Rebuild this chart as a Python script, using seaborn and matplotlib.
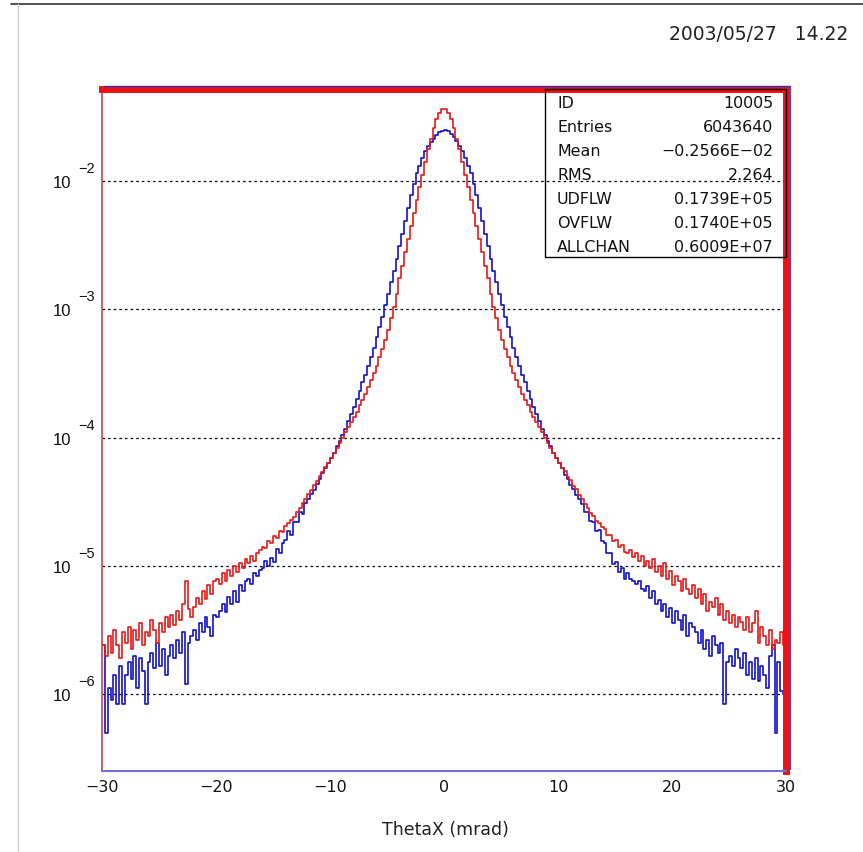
import numpy as np
import pandas as pd
import matplotlib
matplotlib.use("Agg")
import matplotlib.pyplot as plt
import matplotlib.transforms as mtransforms
import seaborn as sns
from matplotlib.lines import Line2D
from matplotlib.patches import Rectangle
from matplotlib.ticker import LogLocator, MultipleLocator, NullFormatter

# ---------------- data ----------------
x_range = (-30.0, 30.0)
n_bins = 240
# log10 of bin content, bins of 0.25 mrad from -30 to 30
blue_log10 = [
    -5.62, -6.30, -5.95, -6.05, -5.85, -6.08, -5.78, -6.08,
    -5.85, -5.75, -5.88, -5.70, -5.95, -5.72, -5.82, -6.08,
    -5.75, -5.68, -5.80, -5.60, -5.78, -5.65, -5.85, -5.70,
    -5.62, -5.72, -5.58, -5.68, -5.52, -5.92, -5.60, -5.55,
    -5.50, -5.58, -5.45, -5.52, -5.40, -5.48, -5.55, -5.38,
    -5.40, -5.35, -5.30, -5.36, -5.24, -5.30, -5.20, -5.28,
    -5.15, -5.20, -5.12, -5.10, -5.14, -5.06, -5.08, -5.03,
    -5.02, -4.96, -5.00, -4.94, -4.97, -4.87, -4.90, -4.82,
    -4.80, -4.73, -4.76, -4.66, -4.66, -4.58, -4.60, -4.51,
    -4.48, -4.44, -4.41, -4.36, -4.32, -4.28, -4.24, -4.20,
    -4.16, -4.12, -4.07, -4.03, -3.98, -3.93, -3.87, -3.82,
    -3.76, -3.70, -3.64, -3.57, -3.51, -3.44, -3.37, -3.30,
    -3.22, -3.14, -3.06, -2.97, -2.88, -2.79, -2.70, -2.61,
    -2.51, -2.41, -2.31, -2.21, -2.11, -2.02, -1.94, -1.88,
    -1.82, -1.77, -1.73, -1.70, -1.67, -1.64, -1.62, -1.61,
    -1.60, -1.61, -1.63, -1.66, -1.69, -1.73, -1.77, -1.82,
    -1.88, -1.94, -2.02, -2.11, -2.21, -2.31, -2.41, -2.51,
    -2.61, -2.70, -2.79, -2.88, -2.97, -3.06, -3.14, -3.22,
    -3.30, -3.37, -3.44, -3.51, -3.57, -3.64, -3.70, -3.76,
    -3.82, -3.87, -3.93, -3.98, -4.03, -4.07, -4.12, -4.16,
    -4.20, -4.24, -4.29, -4.32, -4.37, -4.40, -4.45, -4.48,
    -4.52, -4.58, -4.58, -4.65, -4.66, -4.73, -4.72, -4.81,
    -4.82, -4.90, -4.90, -4.99, -4.97, -5.05, -5.02, -5.10,
    -5.06, -5.10, -5.12, -5.14, -5.12, -5.18, -5.20, -5.16,
    -5.25, -5.20, -5.30, -5.27, -5.35, -5.30, -5.40, -5.33,
    -5.45, -5.35, -5.42, -5.50, -5.38, -5.55, -5.45, -5.48,
    -5.52, -5.60, -5.50, -5.65, -5.58, -5.70, -5.55, -5.62,
    -5.68, -5.60, -6.08, -5.75, -5.70, -5.78, -5.65, -5.72,
    -5.80, -5.68, -5.85, -5.75, -5.88, -5.72, -5.90, -5.78,
    -5.85, -5.95, -5.70, -5.62, -6.30, -5.75, -5.98, -6.00,
]
red_log10 = [
    -5.62, -5.70, -5.55, -5.68, -5.50, -5.62, -5.72, -5.52,
    -5.60, -5.48, -5.65, -5.50, -5.58, -5.45, -5.62, -5.52,
    -5.55, -5.42, -5.50, -5.60, -5.45, -5.52, -5.40, -5.48,
    -5.38, -5.46, -5.35, -5.42, -5.30, -5.12, -5.34, -5.40,
    -5.32, -5.25, -5.30, -5.20, -5.26, -5.15, -5.22, -5.12,
    -5.10, -5.14, -5.06, -5.12, -5.03, -5.08, -5.00, -5.05,
    -4.98, -5.02, -4.95, -4.98, -4.92, -4.96, -4.90, -4.88,
    -4.85, -4.86, -4.81, -4.82, -4.77, -4.78, -4.73, -4.74,
    -4.69, -4.67, -4.64, -4.62, -4.58, -4.55, -4.51, -4.48,
    -4.44, -4.41, -4.37, -4.34, -4.30, -4.27, -4.23, -4.20,
    -4.16, -4.12, -4.08, -4.04, -4.00, -3.96, -3.92, -3.88,
    -3.84, -3.80, -3.75, -3.71, -3.66, -3.61, -3.55, -3.50,
    -3.44, -3.37, -3.31, -3.24, -3.16, -3.07, -2.98, -2.88,
    -2.76, -2.66, -2.55, -2.45, -2.35, -2.25, -2.15, -2.05,
    -1.95, -1.85, -1.75, -1.67, -1.59, -1.52, -1.47, -1.44,
    -1.44, -1.47, -1.52, -1.59, -1.67, -1.75, -1.85, -1.95,
    -2.05, -2.15, -2.25, -2.35, -2.45, -2.55, -2.66, -2.76,
    -2.88, -2.98, -3.07, -3.16, -3.24, -3.31, -3.37, -3.44,
    -3.50, -3.55, -3.61, -3.66, -3.71, -3.75, -3.80, -3.84,
    -3.88, -3.92, -3.96, -4.00, -4.04, -4.08, -4.12, -4.16,
    -4.20, -4.24, -4.26, -4.31, -4.33, -4.38, -4.40, -4.45,
    -4.48, -4.52, -4.55, -4.59, -4.61, -4.65, -4.67, -4.70,
    -4.71, -4.76, -4.76, -4.81, -4.80, -4.85, -4.84, -4.89,
    -4.90, -4.88, -4.93, -4.90, -4.96, -4.92, -5.00, -4.96,
    -5.02, -4.95, -5.05, -5.00, -5.08, -4.98, -5.10, -5.04,
    -5.15, -5.08, -5.12, -5.20, -5.10, -5.18, -5.22, -5.15,
    -5.25, -5.18, -5.30, -5.22, -5.35, -5.28, -5.32, -5.25,
    -5.38, -5.30, -5.42, -5.35, -5.45, -5.38, -5.48, -5.40,
    -5.44, -5.50, -5.40, -5.52, -5.45, -5.35, -5.60, -5.48,
    -5.55, -5.62, -5.50, -5.65, -5.58, -5.60, -5.52, -5.62,
]
x_ticks = [-30, -20, -10, 0, 10, 20, 30]
y_decades = [-6, -5, -4, -3, -2]
stat_labels = ["ID", "Entries", "Mean", "RMS", "UDFLW", "OVFLW", "ALLCHAN"]
stat_values = ["10005", "6043640", "\u22120.2566E\u221202", "2.264",
               "0.1739E+05", "0.1740E+05", "0.6009E+07"]
date_text = "2003/05/27   14.22"
x_label = "ThetaX (mrad)"

# ---------------- build table ----------------
edges = np.linspace(x_range[0], x_range[1], n_bins + 1)
centers = 0.5 * (edges[:-1] + edges[1:])
df = pd.DataFrame({
    "theta": np.concatenate([centers, centers]),
    "content": np.power(10.0, np.concatenate([blue_log10, red_log10])),
    "series": ["blue"] * n_bins + ["red"] * n_bins,
})

sns.set_theme(style="white")
plt.rcParams["font.family"] = ["DejaVu Sans"]

W, H = 863, 853
fig = plt.figure(figsize=(W / 100, H / 100), dpi=100)
fig.patch.set_facecolor("white")

def fx(px):
    return px / W

def fy(py):
    return 1 - py / H

ax_l, ax_r, ax_t, ax_b = 102, 786, 90, 772
ax = fig.add_axes([fx(ax_l), fy(ax_b), (ax_r - ax_l) / W, (ax_b - ax_t) / H])
ax.set_facecolor("white")

colors = {"blue": "#1212c8", "red": "#e81818"}
for name in ["blue", "red"]:
    sub = df[df["series"] == name]
    sns.histplot(data=sub, x="theta", weights="content", bins=n_bins,
                 binrange=x_range, element="step", fill=False,
                 color=colors[name], linewidth=1.2, ax=ax)

ax.set_yscale("log")
ax.set_xlim(*x_range)
ax.set_ylim(10 ** -6.6, 10 ** -1.283)
ax.set_xlabel("")
ax.set_ylabel("")

ax.set_xticks(x_ticks)
ax.set_xticklabels([f"{t}".replace("-", "\u2212") for t in x_ticks])
ax.xaxis.set_minor_locator(MultipleLocator(2))
ax.set_yticks([10.0 ** d for d in y_decades])
ax.set_yticklabels([])
ax.yaxis.set_minor_locator(LogLocator(base=10, subs=np.arange(2, 10), numticks=30))
ax.yaxis.set_minor_formatter(NullFormatter())

ax.tick_params(which="both", direction="in", color="black", width=1.0,
               top=False, right=False)
ax.tick_params(which="major", length=9)
ax.tick_params(which="minor", length=5)
ax.tick_params(axis="x", which="major", labelsize=11.5, pad=6, labelcolor="#111111")

# y tick labels: "10" centred on the decade, exponent raised
ylab_trans = mtransforms.blended_transform_factory(ax.transAxes, ax.transData)
for d in y_decades:
    base_t = mtransforms.offset_copy(ylab_trans, fig=fig, x=-31, y=-6, units="dots")
    ax.text(0, 10.0 ** d, "10", transform=base_t, ha="right", va="baseline",
            fontsize=12, family=["Liberation Sans", "DejaVu Sans"], color="#111111")
    exp_t = mtransforms.offset_copy(ylab_trans, fig=fig, x=-24, y=9, units="dots")
    ax.text(0, 10.0 ** d, f"\u2212{abs(d)}", transform=exp_t, ha="left", va="baseline",
            fontsize=10.5, family=["Liberation Sans", "DejaVu Sans"], color="#111111")

ax.grid(False)
ax.yaxis.grid(True, which="major", linestyle=(0, (2, 2.5)), color="black", linewidth=0.9)

ax.spines["top"].set_color("#ee1111")
ax.spines["top"].set_linewidth(5)
ax.spines["right"].set_color("#ee1111")
ax.spines["right"].set_linewidth(5)
ax.spines["left"].set_color("#c8405a")
ax.spines["left"].set_linewidth(1.2)
ax.spines["bottom"].set_color("#7070d8")
ax.spines["bottom"].set_linewidth(1.5)

# thin blue outline of the 3D frame
fig.add_artist(Line2D([fx(104), fx(790)], [fy(87), fy(87)], color="#3030c0",
                      lw=1.0, transform=fig.transFigure))
fig.add_artist(Line2D([fx(790), fx(790)], [fy(87), fy(770)], color="#6040c0",
                      lw=1.0, transform=fig.transFigure))

# stats box
fig.add_artist(Rectangle((fx(545), fy(258)), (786 - 545) / W, (258 - 90) / H,
                         transform=fig.transFigure, fill=False, ec="black", lw=1.0))
row_y = [103, 128, 152, 176, 200, 224, 247]
for lab, val, yy in zip(stat_labels, stat_values, row_y):
    fig.text(fx(557), fy(yy), lab, ha="left", va="center", fontsize=11.4, color="#111111")
    fig.text(fx(773), fy(yy), val, ha="right", va="center", fontsize=11.4, color="#111111")

# date, axis title
fig.text(fx(848), fy(35), date_text, ha="right", va="center", fontsize=13.5, color="#222222")
fig.text(fx(445), fy(830), x_label, ha="center", va="center", fontsize=12.5, color="#222222")

# page border lines
fig.add_artist(Line2D([fx(11), 1.0], [fy(5), fy(5)], color="#333333", lw=1.2,
                      transform=fig.transFigure))
fig.add_artist(Line2D([fx(18), fx(18)], [0.0, fy(5)], color="#cccccc", lw=1.0,
                      transform=fig.transFigure))

fig.savefig("out.png", dpi=100, facecolor="white")
